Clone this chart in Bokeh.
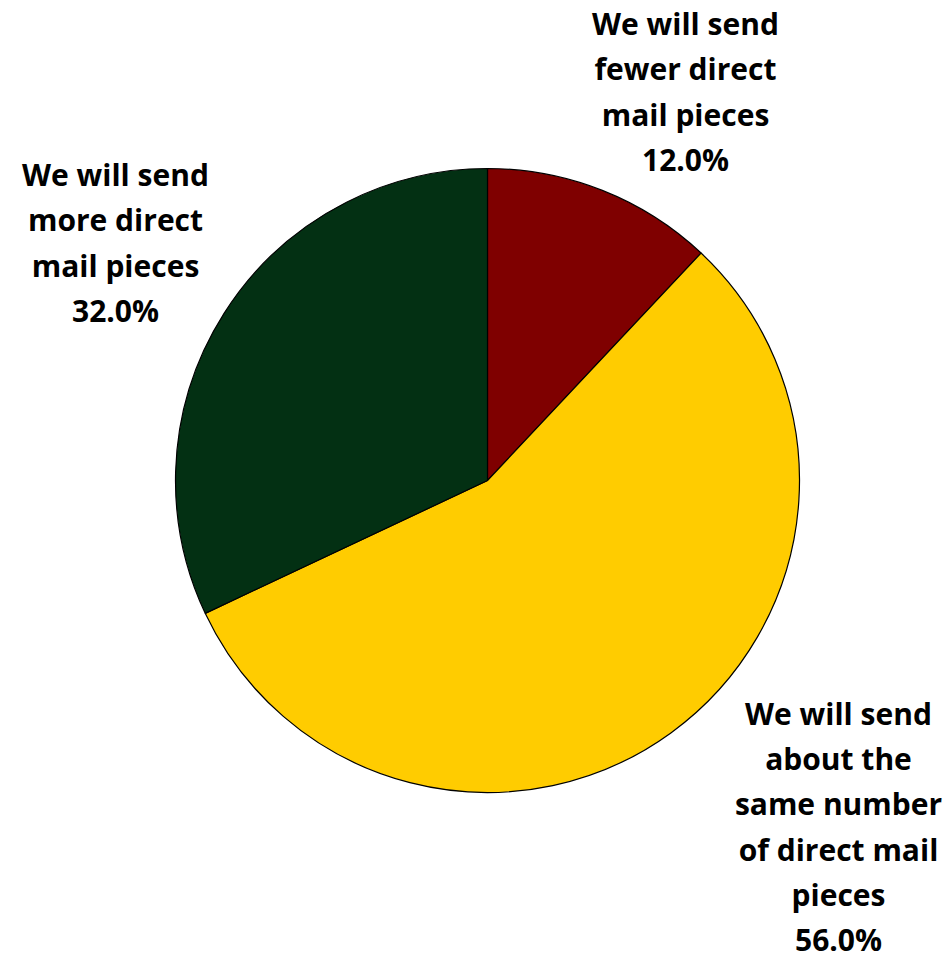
import math
from bokeh.plotting import figure
from bokeh.models import ColumnDataSource, Range1d
from bokeh.core.properties import value
from bokeh.embed import file_html
from bokeh.resources import INLINE

categories = ["We will send fewer direct mail pieces",
              "We will send about the same number of direct mail pieces",
              "We will send more direct mail pieces"]
shares = [12.0, 56.0, 32.0]
colors = ["#7F0000", "#FFCC00", "#033013"]
label_texts = ["We will send\nfewer direct\nmail pieces\n12.0%",
               "We will send\nabout the\nsame number\nof direct mail\npieces\n56.0%",
               "We will send\nmore direct\nmail pieces\n32.0%"]

W, H = 946, 964
p = figure(width=W, height=H, output_backend="svg", toolbar_location=None,
           x_range=Range1d(0, W), y_range=Range1d(0, H), min_border=0)
p.axis.visible = False
p.grid.visible = False
p.outline_line_color = None
p.background_fill_color = "white"

cx, cy, r = 487, H - 480, 312
total = sum(shares)
starts, ends = [], []
acc = 0.0
for s in shares:
    starts.append(math.pi / 2 - acc / total * 2 * math.pi)
    acc += s
    ends.append(math.pi / 2 - acc / total * 2 * math.pi)

src = ColumnDataSource(dict(start=starts, end=ends, color=colors, cat=categories))
p.wedge(x=cx, y=cy, radius=r, start_angle="start", end_angle="end", direction="clock",
        fill_color="color", line_color="black", line_width=1.2, source=src)

lx = [685, 838, 115]
ly = [H - 91, H - 826, H - 242]
lsrc = ColumnDataSource(dict(x=lx, y=ly, t=label_texts))
p.text(x="x", y="y", text="t", source=lsrc, text_align="center", text_baseline="middle",
       text_font=value("Open Sans"), text_font_style="bold", text_font_size="30px",
       text_line_height=1.1, text_color="black")

open("out.html", "w").write(file_html(p, INLINE))
